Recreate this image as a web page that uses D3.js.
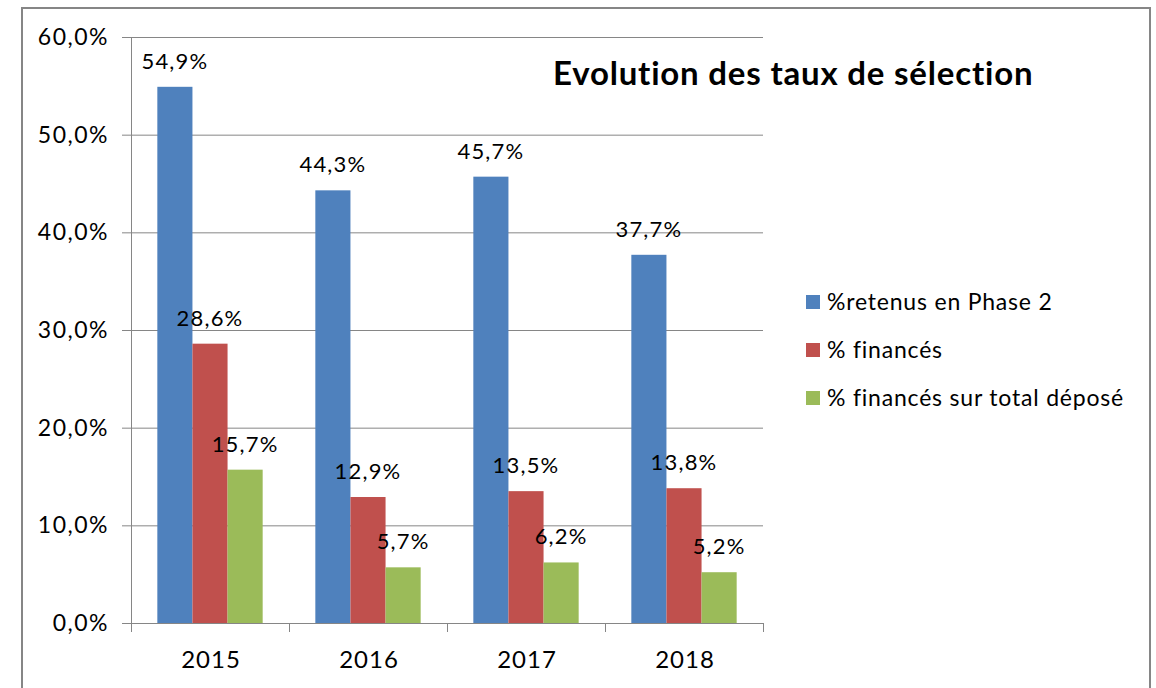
<!DOCTYPE html>
<html>
<head>
<meta charset="utf-8">
<script src="https://cdn.jsdelivr.net/npm/d3@7"></script>
<style>
  body { margin: 0; background: #fff; }
  text { font-family: Lato, "Open Sans", sans-serif; fill: #000; }
</style>
</head>
<body>
<div id="chart"></div>
<script>
// chart data
var years = ["2015", "2016", "2017", "2018"];
var seriesNames = ["%retenus en Phase 2", "% financés", "% financés sur total déposé"];
var retenus = [54.9, 44.3, 45.7, 37.7];
var finances = [28.6, 12.9, 13.5, 13.8];
var financesTotal = [15.7, 5.7, 6.2, 5.2];
var yTicks = [0, 10, 20, 30, 40, 50, 60];
var colors = ["#4F81BD", "#C0504D", "#9BBB59"];

var width = 1156;
var height = 688;

var svg = d3.select("#chart")
  .append("svg")
  .attr("width", width)
  .attr("height", height);

// outer frame of the chart
svg.append("rect")
  .attr("x", 22)
  .attr("y", 8)
  .attr("width", 1128)
  .attr("height", 700)
  .style("fill", "none")
  .style("stroke", "#868686")
  .style("stroke-width", 2);

var plot = { left: 131, right: 763, top: 37, bottom: 623 };

var x0 = d3.scaleBand()
  .domain(years)
  .range([plot.left, plot.right]);

var y = d3.scaleLinear()
  .domain([0, 60])
  .range([plot.bottom, plot.top]);

var fmt = function(d) {
  return d3.format(".1f")(d).replace(".", ",") + "%";
};

// gridlines
svg.append("g")
  .selectAll("line")
  .data(yTicks.filter(function(d) { return d > 0; }))
  .enter()
  .append("line")
  .attr("x1", plot.left)
  .attr("x2", plot.right)
  .attr("y1", function(d) { return y(d) + 0.5; })
  .attr("y2", function(d) { return y(d) + 0.5; })
  .style("stroke", "#868686")
  .style("stroke-width", 1);

// y axis
var yAxis = svg.append("g")
  .attr("transform", "translate(" + plot.left + ",0)")
  .call(d3.axisLeft(y).tickValues(yTicks).tickSize(9).tickPadding(13).tickFormat(fmt));
yAxis.selectAll("text")
  .style("font-size", "23px")
  .style("letter-spacing", "1.5px")
  .style("font-family", "Lato, sans-serif");
yAxis.selectAll("line, path").style("stroke", "#868686");

// x axis
var xAxis = svg.append("g")
  .attr("transform", "translate(0," + plot.bottom + ")");
xAxis.append("line")
  .attr("x1", plot.left)
  .attr("x2", plot.right)
  .attr("y1", 0.5)
  .attr("y2", 0.5)
  .style("stroke", "#868686");
xAxis.selectAll(".tick")
  .data(years.concat(["end"]))
  .enter()
  .append("line")
  .attr("x1", function(d, i) { return plot.left + i * x0.step() + 0.5; })
  .attr("x2", function(d, i) { return plot.left + i * x0.step() + 0.5; })
  .attr("y1", 0)
  .attr("y2", 9)
  .style("stroke", "#868686");
xAxis.selectAll("text")
  .data(years)
  .enter()
  .append("text")
  .attr("x", function(d) { return x0(d) + x0.bandwidth() / 2 + 1; })
  .attr("y", 45)
  .attr("text-anchor", "middle")
  .style("font-size", "24px")
  .style("letter-spacing", "1px")
  .text(function(d) { return d; });

// bars (excel gap width 150%: band = 3 bars + 1.5 bar)
var allSeries = [retenus, finances, financesTotal];
var barW = x0.bandwidth() / 4.5;
var groups = svg.selectAll(".serie")
  .data(allSeries)
  .enter()
  .append("g")
  .attr("class", "serie");

groups.selectAll("rect")
  .data(function(s, si) {
    return s.map(function(v, i) { return { year: years[i], value: v, serie: si }; });
  })
  .enter()
  .append("rect")
  .attr("x", function(d) { return x0(d.year) + barW * 0.75 + d.serie * barW; })
  .attr("y", function(d) { return y(d.value); })
  .attr("width", barW)
  .attr("height", function(d) { return y(0) - y(d.value); })
  .style("fill", function(d) { return colors[d.serie]; });

groups.selectAll("text")
  .data(function(s, si) {
    return s.map(function(v, i) { return { year: years[i], value: v, serie: si }; });
  })
  .enter()
  .append("text")
  .attr("x", function(d) { return x0(d.year) + barW * 0.75 + d.serie * barW + barW / 2; })
  .attr("y", function(d) { return y(d.value) - 18; })
  .attr("text-anchor", "middle")
  .style("font-size", "22px")
  .style("letter-spacing", "1.2px")
  .text(function(d) { return fmt(d.value); });

// title
svg.append("text")
  .attr("x", 553)
  .attr("y", 85)
  .style("font-size", "33px")
  .style("font-weight", "bold")
  .style("letter-spacing", "0.8px")
  .text("Evolution des taux de sélection");

// legend
var legend = svg.selectAll(".legend")
  .data(seriesNames)
  .enter()
  .append("g")
  .attr("class", "legend")
  .attr("transform", function(d, i) { return "translate(806," + (302 + i * 48) + ")"; });

legend.append("rect")
  .attr("x", 0)
  .attr("y", -7)
  .attr("width", 14)
  .attr("height", 14)
  .style("fill", function(d, i) { return colors[i]; });

legend.append("text")
  .attr("x", 21)
  .attr("y", 0)
  .attr("dy", "0.35em")
  .style("font-size", "23px")
  .style("letter-spacing", "0.8px")
  .text(function(d) { return d; });
</script>
</body>
</html>
